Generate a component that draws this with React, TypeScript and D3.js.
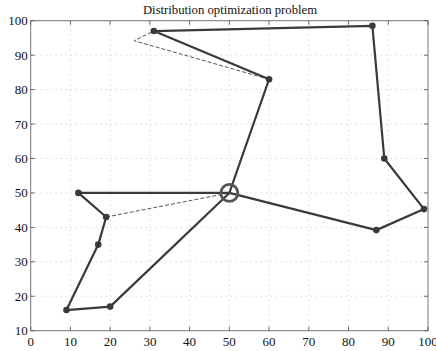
import React, { useEffect, useRef } from 'react'
import * as d3 from 'd3'

// Route data (depot at 50,50)
const depot = [50, 50]
const route1X = [50, 60, 31, 86, 89, 99, 87, 50]
const route1Y = [50, 83, 97, 98.5, 60, 45.3, 39.2, 50]
const route2X = [50, 12, 19, 17, 9, 20, 50]
const route2Y = [50, 50, 43, 35, 16, 17, 50]
// earlier (dashed) alternative links
const dash1X = [60, 26, 31]
const dash1Y = [83, 94.2, 97]
const dash2X = [19, 50]
const dash2Y = [43, 50]

const xTicks = [0, 10, 20, 30, 40, 50, 60, 70, 80, 90, 100]
const yTicks = [10, 20, 30, 40, 50, 60, 70, 80, 90, 100]
const title = 'Distribution optimization  problem'

const W = 436
const H = 351
const margin = { top: 20.7, right: 8, bottom: 20.3, left: 30.7 }

export default function App() {
  const svgRef = useRef<SVGSVGElement>(null)

  useEffect(() => {
    const svg = d3.select(svgRef.current)
    svg.selectAll('*').remove()

    const x = d3.scaleLinear().domain([0, 100]).range([margin.left, 428])
    const y = d3.scaleLinear().domain([10, 100]).range([H - margin.bottom, margin.top])

    const g = svg.append('g')
    const font = '"Liberation Serif", "DejaVu Serif", serif'

    // dotted grid
    g.selectAll('.gx').data(xTicks.slice(1, -1)).enter().append('line')
      .attr('x1', d => x(d)).attr('x2', d => x(d))
      .attr('y1', y(10)).attr('y2', y(100))
      .attr('stroke', '#bbb').attr('stroke-width', 0.8).attr('stroke-dasharray', '1,4')
    g.selectAll('.gy').data(yTicks.slice(1, -1)).enter().append('line')
      .attr('y1', d => y(d)).attr('y2', d => y(d))
      .attr('x1', x(0)).attr('x2', x(100))
      .attr('stroke', '#bbb').attr('stroke-width', 0.8).attr('stroke-dasharray', '1,4')

    // frame
    g.append('rect')
      .attr('x', x(0)).attr('y', y(100))
      .attr('width', x(100) - x(0)).attr('height', y(10) - y(100))
      .attr('fill', 'none').attr('stroke', '#777').attr('stroke-width', 1)

    // inward ticks on all sides
    const tl = 4
    xTicks.forEach(t => {
      g.append('line').attr('x1', x(t)).attr('x2', x(t)).attr('y1', y(10)).attr('y2', y(10) - tl).attr('stroke', '#666')
      g.append('line').attr('x1', x(t)).attr('x2', x(t)).attr('y1', y(100)).attr('y2', y(100) + tl).attr('stroke', '#666')
    })
    yTicks.forEach(t => {
      g.append('line').attr('y1', y(t)).attr('y2', y(t)).attr('x1', x(0)).attr('x2', x(0) + tl).attr('stroke', '#666')
      g.append('line').attr('y1', y(t)).attr('y2', y(t)).attr('x1', x(100)).attr('x2', x(100) - tl).attr('stroke', '#666')
    })

    // tick labels
    g.selectAll('.xl').data(xTicks).enter().append('text')
      .attr('x', d => x(d)).attr('y', y(10) + 15)
      .attr('text-anchor', 'middle')
      .attr('font-family', font).attr('font-size', 13).attr('fill', '#111')
      .text(d => d)
    g.selectAll('.yl').data(yTicks).enter().append('text')
      .attr('x', x(0) - 3).attr('y', d => y(d) + 4.5)
      .attr('text-anchor', 'end')
      .attr('font-family', font).attr('font-size', 13).attr('fill', '#111')
      .text(d => d)

    // title
    g.append('text')
      .attr('x', 230).attr('y', 14)
      .attr('text-anchor', 'middle')
      .attr('font-family', font).attr('font-size', 12.7).attr('fill', '#111')
      .text(title)

    const line = d3.line<[number, number]>().x(d => x(d[0])).y(d => y(d[1]))
    const pts = (xs: number[], ys: number[]) => xs.map((v, i) => [v, ys[i]] as [number, number])

    // dashed links
    ;[pts(dash1X, dash1Y), pts(dash2X, dash2Y)].forEach(p => {
      g.append('path').attr('d', line(p))
        .attr('fill', 'none').attr('stroke', '#555').attr('stroke-width', 1)
        .attr('stroke-dasharray', '4,2')
    })

    // routes
    ;[pts(route1X, route1Y), pts(route2X, route2Y)].forEach(p => {
      g.append('path').attr('d', line(p))
        .attr('fill', 'none').attr('stroke', '#3a3a3a').attr('stroke-width', 2.2)
        .attr('stroke-linejoin', 'round')
      g.selectAll(null).data(p.slice(1, -1)).enter().append('circle')
        .attr('cx', d => x(d[0])).attr('cy', d => y(d[1])).attr('r', 3.3)
        .attr('fill', '#3a3a3a')
    })

    // depot marker
    g.append('circle')
      .attr('cx', x(depot[0])).attr('cy', y(depot[1])).attr('r', 8.5)
      .attr('fill', 'none').attr('stroke', '#555').attr('stroke-width', 2.8)
  }, [])

  return (
    <svg ref={svgRef} width={W} height={H}
      style={{ position: 'absolute', left: 0, top: 0, background: '#fff' }} />
  )
}
